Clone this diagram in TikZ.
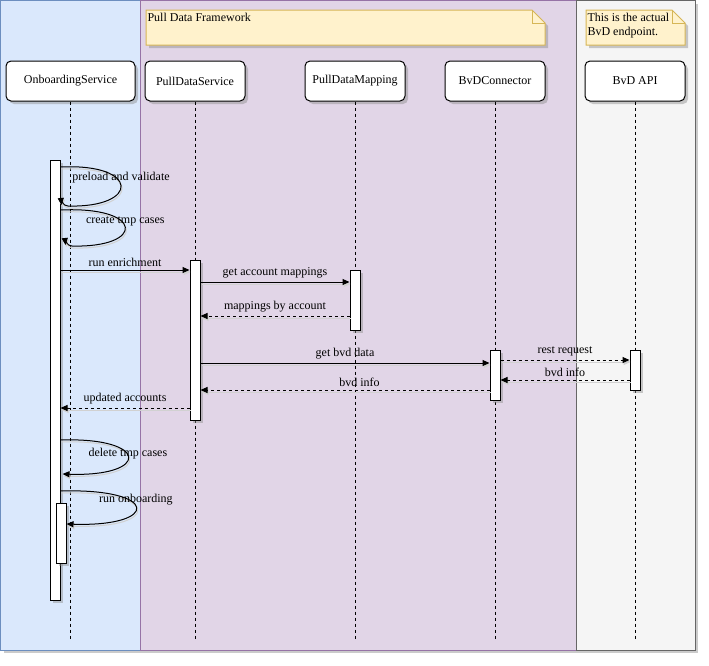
\documentclass[tikz,border=0pt]{standalone}
\usepackage{fontspec}
\setmainfont{Liberation Serif}
\usetikzlibrary{arrows.meta,positioning,shadows}
\definecolor{laneblue}{HTML}{DAE8FC}
\definecolor{lineblue}{HTML}{6C8EBF}
\definecolor{lanepurple}{HTML}{E1D5E7}
\definecolor{linepurple}{HTML}{9673A6}
\definecolor{lanegrey}{HTML}{F5F5F5}
\definecolor{linegrey}{HTML}{666666}
\definecolor{notefill}{HTML}{FFF2CC}
\definecolor{noteline}{HTML}{D6B656}

\begin{document}
\begin{tikzpicture}[x=1pt,y=-1pt,line width=1pt,>={Triangle[length=7pt,width=6pt]},
 font=\fontsize{12}{14}\selectfont,
 shad/.style={drop shadow={shadow xshift=3pt,shadow yshift=-3pt,fill=black!45,opacity=.45}},
 lane/.style={shad},
 note/.style={draw=noteline,fill=notefill,shad},
 head/.style={draw,fill=white,rounded corners=5pt,minimum width=100pt,minimum height=40pt,
 inner sep=0pt,shad},
 act/.style={draw,fill=white,minimum width=10pt,inner sep=0pt,shad},
 life/.style={dashed,line width=.8pt},
 msg/.style={->,preaction={draw=black!18,transform canvas={shift={(1pt,-2pt)}}}},
 ret/.style={msg,dashed}]
\useasboundingbox (0,0) rectangle (709,665);
\draw[lane,fill=laneblue,draw=lineblue] (0.5,0.5) rectangle (140,650);
\draw[lane,fill=lanepurple,draw=linepurple] (140,0.5) rectangle (576,650);
\draw[lane,fill=lanegrey,draw=linegrey] (576,0.5) rectangle (695,650);

\draw[note] (146,10) -- (532,10) -- (545,23) -- (545,45) -- (146,45) -- cycle;
\draw[draw=noteline] (532,10) -- (532,23) -- (545,23);
\node[anchor=north west,inner sep=1pt] (fw) at (146,12) {Pull Data Framework};
\draw[note] (586,10) -- (672,10) -- (685,23) -- (685,45) -- (586,45) -- cycle;
\draw[draw=noteline] (672,10) -- (672,23) -- (685,23);
\node[anchor=north west,inner sep=1pt,align=left] (ep) at (586,12) {This is the actual\\BvD endpoint.};

\node[head,minimum width=129pt] (onb) at (70.5,81) {OnboardingService};
\node[head] (pds) at (195,81) {PullDataService};
\node[head] (pdm) at (355,81) {PullDataMapping};
\node[head] (bvc) at (495,81) {BvDConnector};
\node[head] (api) at (635,81) {BvD API};
\foreach \n in {onb,pds,pdm,bvc,api}
  \draw[life] (\n.south) -- (\n.south |- 0,640);

\node[act,minimum height=440pt] (onbA) at (55,380) {};
\node[act,minimum height=60pt] (onbB) at (61,533) {};
\node[act,minimum height=160pt] (pdsA) at (195,340) {};
\node[act,minimum height=60pt] (pdmA) at (355,300) {};
\node[act,minimum height=50pt] (bvcA) at (495,375) {};
\node[act,minimum height=40pt] (apiA) at (635,370) {};

\draw[msg] (onbA.east |- 0,167) .. controls (140,163) and (140,208) .. node[above=-1pt]{preload and validate}
 (68,206) .. controls (63,206) and (61,200) .. ([xshift=1pt]onbA.east |- 0,205);
\draw[msg] (onbA.east |- 0,210) .. controls (145,206) and (145,248) .. node[above=-3pt]{create tmp cases}
 (72,246) .. controls (67,246) and (65,240) .. ([xshift=5pt]onbA.east |- 0,245);
\draw[msg] (onbA.east |- 0,270) -- node[above]{run enrichment} (pdsA.west |- 0,270);
\draw[msg] (pdsA.east |- 0,282) -- node[above]{get account mappings} (pdmA.west |- 0,282);
\draw[ret] (pdmA.west |- 0,316) -- node[above]{mappings by account} (pdsA.east |- 0,316);
\draw[msg] (pdsA.east |- 0,363) -- node[above]{get bvd data} (bvcA.west |- 0,363);
\draw[ret] (bvcA.east |- 0,360) -- node[above]{rest request} (apiA.west |- 0,360);
\draw[ret] (apiA.west |- 0,380) -- node[above]{bvd info} (bvcA.east |- 0,380);
\draw[ret] (bvcA.west |- 0,390) -- node[above,pos=.45]{bvd info} (pdsA.east |- 0,390);
\draw[ret] (pdsA.west |- 0,408) -- node[above]{updated accounts} (onbA.east |- 0,408);
\draw[msg] (onbA.east |- 0,440) .. controls (150,437) and (150,477) .. node[above=-6pt]{delete tmp cases}
 ([xshift=2pt]onbA.east |- 0,474);
\draw[msg] (onbA.east |- 0,491) .. controls (160,488) and (160,527) .. node[above=-1pt]{run onboarding}
 (onbB.east |- 0,524);
\end{tikzpicture}
\end{document}
